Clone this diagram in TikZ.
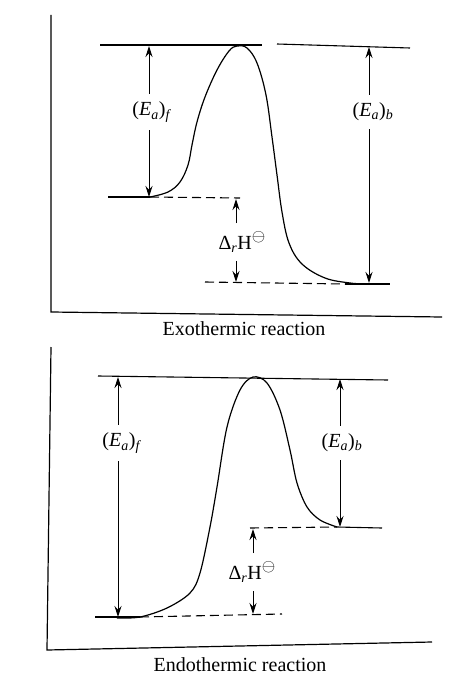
\documentclass[tikz,border=0pt]{standalone}
\usepackage{fontspec}
\setmainfont{Liberation Serif}
\usepackage{tikz}
\usetikzlibrary{arrows.meta, positioning, calc}

\newcommand{\eaf}{(\textit{E}\textsubscript{\textit{a}})\textsubscript{\textit{f}}}
\newcommand{\eab}{(\textit{E}\textsubscript{\textit{a}})\textsubscript{\textit{b}}}
\newcommand{\drh}{Δ\textsubscript{\textit{r}}H\raisebox{0.42em}{\fontsize{17}{17}\selectfont$\ominus$}}

\begin{document}
\begin{tikzpicture}[
    x=1pt, y=-1pt,
    font=\fontsize{20}{23}\selectfont,
    >={Stealth[length=11pt, width=7pt]},
    % --- estilos ---
    lvl/.style      = {line width=1.1pt},
    dlvl/.style     = {line width=1.1pt, dash pattern=on 9pt off 5pt},
    curve/.style    = {line width=1.2pt},
    axisline/.style = {line width=1.2pt},
    arr/.style      = {->, line width=1pt},
    lbl/.style      = {inner xsep=1pt, inner ysep=8pt}
]
\useasboundingbox (0,0) rectangle (474,690);

% ===================== EXOTERMICA (arriba) =====================
\draw[axisline] (51,15) -- (51,312) -- (442,317);

\draw[lvl]  (100,45) -- (262,45);
\draw[lvl]  (277,44) -- (410,48);
\draw[lvl]  (108,197) -- (150,197);
\draw[dlvl] (150,197) -- (240,198);
\draw[dlvl] (205,282) -- (345,284);
\draw[lvl]  (345,284) -- (390,284);

\draw[curve] plot[smooth, tension=0.6] coordinates {
    (150,197) (168,192) (180,182) (188,165) (192,145) (197,122)
    (205,97) (217,70) (229,51) (237,46) (247,48) (257,63) (266,95)
    (272,137) (277,175) (282,212) (289,243) (302,264) (325,278)
    (350,283) (367,284)};

\coordinate (exoEafT) at (149,46);
\coordinate (exoEafB) at (149,197);
\coordinate (exoEabT) at (369,47);
\coordinate (exoEabB) at (369,283);
\coordinate (exoDHT)  at (236,199);
\coordinate (exoDHB)  at (236,282);

\node[lbl] (exoEaf) at (152,112) {\eaf};
\node[lbl] (exoEab) at (373,112) {\eab};
\node[lbl] (exoDH)  at (242,242) {\drh};

\draw[arr] (exoEaf.north -| exoEafT) -- (exoEafT);
\draw[arr] (exoEaf.south -| exoEafB) -- (exoEafB);
\draw[arr] (exoEab.north -| exoEabT) -- (exoEabT);
\draw[arr] (exoEab.south -| exoEabB) -- (exoEabB);
\draw[arr] (exoDH.north -| exoDHT) -- (exoDHT);
\draw[arr] (exoDH.south -| exoDHB) -- (exoDHB);

\node (exoCap) at (244,329) {Exothermic reaction};

% ===================== ENDOTERMICA (abajo) =====================
\draw[axisline] (51,347) -- (47,650) -- (432,642);

\draw[lvl]  (98,376) -- (388,380);
\draw[lvl]  (95,617) -- (140,617);
\draw[dlvl] (140,617) -- (282,614);
\draw[dlvl] (250,528) -- (337,527);
\draw[lvl]  (337,527) -- (382,528);

\draw[curve] plot[smooth, tension=0.55] coordinates {
    (117,618) (140,617) (167,608) (190,593) (200,573) (210,527)
    (217,487) (227,427) (240,390) (253,377) (267,383) (280,410)
    (290,450) (297,483) (307,507) (320,520) (337,527)};

\coordinate (endoEafT) at (118,377);
\coordinate (endoEafB) at (118,617);
\coordinate (endoEabT) at (340,379);
\coordinate (endoEabB) at (340,527);
\coordinate (endoDHT)  at (253,529);
\coordinate (endoDHB)  at (253,614);

\node[lbl] (endoEaf) at (122,443) {\eaf};
\node[lbl] (endoEab) at (342,443) {\eab};
\node[lbl] (endoDH)  at (252,572) {\drh};

\draw[arr] (endoEaf.north -| endoEafT) -- (endoEafT);
\draw[arr] (endoEaf.south -| endoEafB) -- (endoEafB);
\draw[arr] (endoEab.north -| endoEabT) -- (endoEabT);
\draw[arr] (endoEab.south -| endoEabB) -- (endoEabB);
\draw[arr] (endoDH.north -| endoDHT) -- (endoDHT);
\draw[arr] (endoDH.south -| endoDHB) -- (endoDHB);

\node (endoCap) at (240,665) {Endothermic reaction};

\end{tikzpicture}
\end{document}
